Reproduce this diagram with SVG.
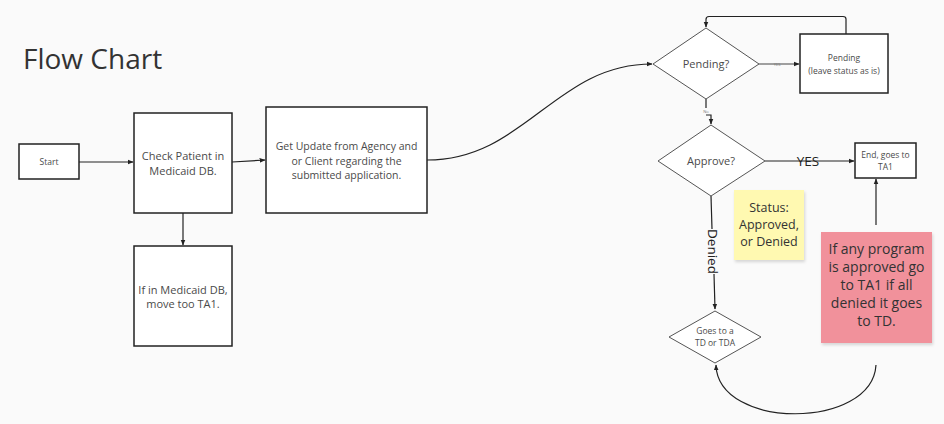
<svg xmlns="http://www.w3.org/2000/svg" width="944" height="424" viewBox="0 0 944 424">
<style>
text{font-family:"Open Sans","Liberation Sans",sans-serif;fill:#333;text-anchor:middle}
.box{fill:#fff;stroke:#222;stroke-width:1.5}
.dia{fill:#fff;stroke:#555;stroke-width:1}
.ln{fill:none;stroke:#222;stroke-width:1.2}
.s9{font-size:8.5px;fill:#4a4a4a}
.s11{font-size:10.5px;fill:#4a4a4a}
.s12{font-size:11px;fill:#4a4a4a}
.s13{font-size:12.5px;fill:#333}
.s14{font-size:14px;fill:#333}
</style>
<defs>
<marker id="ah" viewBox="0 0 10 10" refX="9" refY="5" markerWidth="6" markerHeight="6" markerUnits="userSpaceOnUse" orient="auto">
<path d="M0,1 L10,5 L0,9 z" fill="#222"/>
</marker>
<filter id="sh" x="-10%" y="-10%" width="130%" height="130%">
<feDropShadow dx="1" dy="2" stdDeviation="1.5" flood-color="#000" flood-opacity="0.15"/>
</filter>
</defs>
<rect width="944" height="424" fill="#fafafa"/>
<text x="23" y="69" style="font-size:28px;fill:#333;text-anchor:start">Flow Chart</text>

<g id="connectors">
<path class="ln" d="M79,162 H133" marker-end="url(#ah)"/>
<path class="ln" d="M232,162 L265,160" marker-end="url(#ah)"/>
<path class="ln" d="M183,213 V245" marker-end="url(#ah)"/>
<path class="ln" d="M427,160 C525,160 555,64 652,64" marker-end="url(#ah)"/>
<path class="ln" d="M759,64 H799" marker-end="url(#ah)" style="stroke:#444"/>
<text x="777" y="65.5" style="font-size:4px;fill:#777">YES</text>
<path class="ln" d="M846,34 V19 Q846,16.5 843,16.5 H709 Q706,16.5 706,19.5 V27" marker-end="url(#ah)"/>
<path class="ln" d="M706,99 V108"/>
<text x="706" y="113" style="font-size:4px;fill:#777">No</text>
<path class="ln" d="M706,115 H711 V124" marker-end="url(#ah)"/>
<path class="ln" d="M765,161 H854" marker-end="url(#ah)"/>
<text x="808" y="166" style="font-size:13.5px;fill:#222">YES</text>
<path class="ln" d="M711,196 L712,229"/>
<path class="ln" d="M714,274 L715,309" marker-end="url(#ah)"/>
<text x="0" y="0" transform="translate(708,251.5) rotate(90)" style="font-size:13.5px;fill:#222">Denied</text>
<path class="ln" d="M876,225 V179" marker-end="url(#ah)"/>
<path class="ln" d="M876,365 C872,430 718,430 716,365" marker-end="url(#ah)"/>
</g>

<g id="start">
<rect class="box" x="19" y="144" width="60" height="35"/>
<text class="s9" x="49" y="165">Start</text>
</g>
<g id="check-patient">
<rect class="box" x="134" y="113" width="98" height="100"/>
<text class="s12" x="183" y="160">Check Patient in</text>
<text class="s12" x="183" y="175">Medicaid DB.</text>
</g>
<g id="in-medicaid">
<rect class="box" x="134" y="246" width="98" height="100"/>
<text class="s12" x="183" y="294">If in Medicaid DB,</text>
<text class="s12" x="183" y="308">move too TA1.</text>
</g>
<g id="get-update">
<rect class="box" x="266" y="107" width="161" height="106"/>
<text class="s11" x="346.5" y="150">Get Update from Agency and</text>
<text class="s11" x="346.5" y="164.5">or Client regarding the</text>
<text class="s11" x="346.5" y="179">submitted application.</text>
</g>
<g id="pending-q">
<polygon class="dia" points="706,28 759,64 706,99 653,64"/>
<text class="s11" x="706" y="68" style="font-size:11px">Pending?</text>
</g>
<g id="pending">
<rect class="box" x="800" y="34" width="88" height="59"/>
<text class="s9" x="844" y="61">Pending</text>
<text class="s9" x="844" y="74">(leave status as is)</text>
</g>
<g id="approve-q">
<polygon class="dia" points="711,125 765,161 711,196 658,161"/>
<text class="s11" x="711" y="165" style="font-size:11px">Approve?</text>
</g>
<g id="end">
<rect class="box" x="855" y="143" width="61" height="35"/>
<text class="s9" x="885.5" y="158">End, goes to</text>
<text class="s9" x="885.5" y="170">TA1</text>
</g>
<g id="status-note">
<rect x="734" y="190" width="70" height="70" fill="#fff9b1" filter="url(#sh)"/>
<text class="s13" x="769" y="212">Status:</text>
<text class="s13" x="769" y="229">Approved,</text>
<text class="s13" x="769" y="246">or Denied</text>
</g>
<g id="rule-note">
<rect x="821" y="232" width="111" height="111" fill="#f1919b" filter="url(#sh)"/>
<text class="s14" x="876.5" y="254">If any program</text>
<text class="s14" x="876.5" y="272">is approved go</text>
<text class="s14" x="876.5" y="290">to TA1 if all</text>
<text class="s14" x="876.5" y="308">denied it goes</text>
<text class="s14" x="876.5" y="326">to TD.</text>
</g>
<g id="td">
<polygon class="dia" points="715,311 761,337 715,363 669,337"/>
<text class="s9" x="715" y="333.5">Goes to a</text>
<text class="s9" x="715" y="345.5">TD or TDA</text>
</g>
</svg>
